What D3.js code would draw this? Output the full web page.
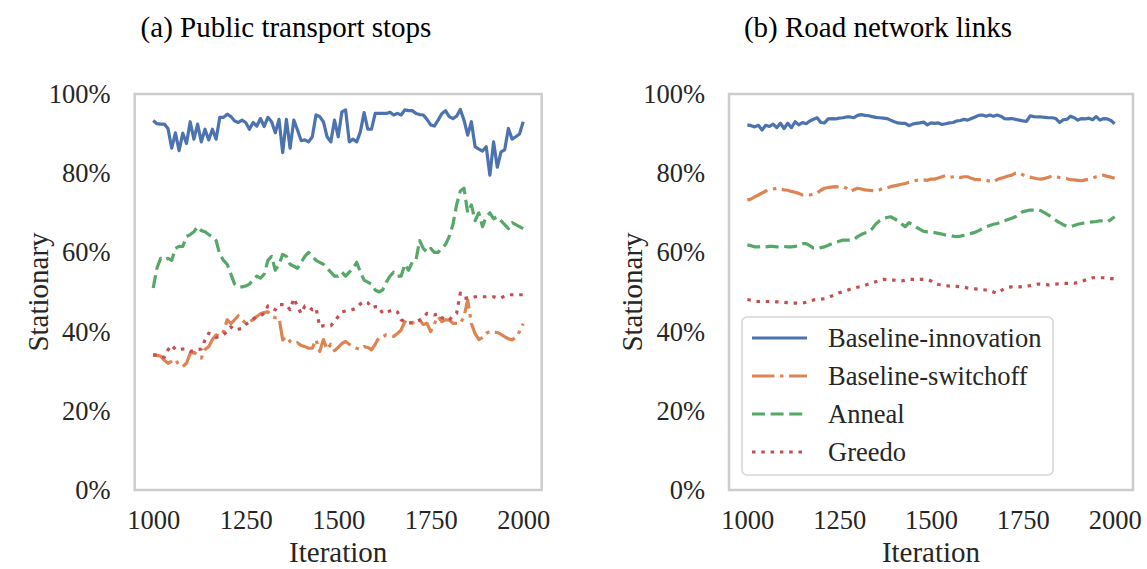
<!DOCTYPE html>
<html>
<head>
<meta charset="utf-8">
<script src="https://cdn.jsdelivr.net/npm/d3@7"></script>
<style>
  html, body { margin: 0; padding: 0; background: #fff; }
  svg { display: block; font-family: "Liberation Serif", "Times New Roman", "DejaVu Serif", serif; }
</style>
</head>
<body>
<svg id="chart" width="1147" height="569"></svg>
<script>
// Iterations sampled every 10 steps
const iterations = d3.range(1000, 2001, 10);

// (a) Public transport stops — share of stationary entities
const transportInnovation = [
  0.933, 0.925, 0.924, 0.924, 0.913, 0.863, 0.902, 0.857, 0.901, 0.875,
  0.930, 0.886, 0.924, 0.879, 0.911, 0.884, 0.911, 0.886, 0.941, 0.941,
  0.949, 0.943, 0.932, 0.928, 0.934, 0.928, 0.911, 0.928, 0.919, 0.938,
  0.918, 0.941, 0.930, 0.902, 0.936, 0.852, 0.936, 0.863, 0.934, 0.909,
  0.882, 0.884, 0.879, 0.892, 0.947, 0.943, 0.930, 0.892, 0.879, 0.934,
  0.892, 0.955, 0.960, 0.879, 0.886, 0.879, 0.905, 0.953, 0.911, 0.911,
  0.951, 0.951, 0.951, 0.951, 0.954, 0.947, 0.951, 0.947, 0.960, 0.958,
  0.958, 0.951, 0.948, 0.947, 0.936, 0.922, 0.919, 0.934, 0.950, 0.958,
  0.943, 0.938, 0.944, 0.961, 0.934, 0.896, 0.930, 0.867, 0.861, 0.856,
  0.867, 0.795, 0.879, 0.815, 0.854, 0.859, 0.913, 0.886, 0.892, 0.899,
  0.930
];
const transportSwitchoff = [
  0.340, 0.340, 0.338, 0.328, 0.320, 0.325, 0.330, 0.315, 0.312, 0.320,
  0.345, 0.348, 0.340, 0.333, 0.355, 0.362, 0.380, 0.392, 0.388, 0.400,
  0.430, 0.420, 0.430, 0.440, 0.430, 0.421, 0.425, 0.430, 0.438, 0.445,
  0.448, 0.450, 0.438, 0.435, 0.435, 0.379, 0.387, 0.375, 0.370, 0.372,
  0.365, 0.362, 0.358, 0.358, 0.380, 0.350, 0.380, 0.355, 0.368, 0.352,
  0.360, 0.370, 0.375, 0.368, 0.362, 0.358, 0.355, 0.362, 0.360, 0.354,
  0.368, 0.385, 0.387, 0.392, 0.390, 0.388, 0.395, 0.404, 0.425, 0.418,
  0.421, 0.430, 0.429, 0.418, 0.421, 0.400, 0.420, 0.438, 0.425, 0.430,
  0.429, 0.421, 0.421, 0.420, 0.438, 0.480, 0.420, 0.395, 0.380, 0.385,
  0.396, 0.400, 0.398, 0.398, 0.393, 0.387, 0.382, 0.379, 0.385, 0.400,
  0.420
];
const transportAnneal = [
  0.510, 0.560, 0.585, 0.580, 0.585, 0.580, 0.610, 0.615, 0.615, 0.640,
  0.645, 0.652, 0.665, 0.655, 0.652, 0.645, 0.640, 0.630, 0.595, 0.580,
  0.570, 0.545, 0.520, 0.513, 0.513, 0.515, 0.520, 0.530, 0.540, 0.535,
  0.545, 0.580, 0.590, 0.555, 0.570, 0.595, 0.590, 0.570, 0.565, 0.560,
  0.575, 0.590, 0.600, 0.590, 0.580, 0.575, 0.570, 0.560, 0.550, 0.540,
  0.540, 0.550, 0.540, 0.550, 0.560, 0.575, 0.550, 0.530, 0.525, 0.520,
  0.505, 0.500, 0.505, 0.525, 0.540, 0.550, 0.540, 0.540, 0.570, 0.555,
  0.575, 0.580, 0.630, 0.610, 0.600, 0.610, 0.600, 0.600, 0.610, 0.620,
  0.640, 0.670, 0.720, 0.755, 0.762, 0.700, 0.720, 0.680, 0.700, 0.665,
  0.690, 0.700, 0.685, 0.690, 0.680, 0.670, 0.660, 0.675, 0.670, 0.665,
  0.660
];
const transportGreedo = [
  0.341, 0.341, 0.338, 0.335, 0.354, 0.366, 0.355, 0.354, 0.356, 0.356,
  0.350, 0.352, 0.355, 0.356, 0.379, 0.396, 0.392, 0.385, 0.388, 0.392,
  0.400, 0.412, 0.404, 0.406, 0.408, 0.418, 0.425, 0.432, 0.438, 0.440,
  0.446, 0.465, 0.460, 0.455, 0.468, 0.468, 0.468, 0.455, 0.484, 0.463,
  0.446, 0.465, 0.463, 0.455, 0.460, 0.412, 0.415, 0.415, 0.415, 0.425,
  0.438, 0.450, 0.452, 0.454, 0.456, 0.460, 0.470, 0.476, 0.473, 0.460,
  0.463, 0.463, 0.446, 0.450, 0.452, 0.455, 0.450, 0.430, 0.425, 0.421,
  0.423, 0.425, 0.429, 0.435, 0.446, 0.444, 0.442, 0.446, 0.435, 0.432,
  0.429, 0.440, 0.446, 0.497, 0.484, 0.485, 0.485, 0.488, 0.488, 0.488,
  0.488, 0.488, 0.488, 0.485, 0.485, 0.490, 0.493, 0.493, 0.493, 0.493,
  0.493
];

// (b) Road network links
const roadInnovation = [
  0.922, 0.920, 0.917, 0.921, 0.909, 0.921, 0.918, 0.924, 0.915, 0.926,
  0.913, 0.926, 0.915, 0.930, 0.922, 0.928, 0.925, 0.932, 0.936, 0.940,
  0.928, 0.927, 0.937, 0.938, 0.937, 0.939, 0.940, 0.942, 0.942, 0.940,
  0.946, 0.948, 0.946, 0.945, 0.943, 0.941, 0.940, 0.939, 0.938, 0.934,
  0.930, 0.927, 0.926, 0.926, 0.920, 0.924, 0.926, 0.927, 0.929, 0.922,
  0.927, 0.926, 0.927, 0.923, 0.925, 0.927, 0.928, 0.932, 0.933, 0.936,
  0.934, 0.938, 0.942, 0.946, 0.947, 0.944, 0.947, 0.944, 0.947, 0.944,
  0.938, 0.937, 0.938, 0.936, 0.934, 0.932, 0.931, 0.945, 0.943, 0.942,
  0.942, 0.941, 0.940, 0.940, 0.938, 0.928, 0.935, 0.936, 0.944, 0.940,
  0.934, 0.938, 0.937, 0.939, 0.935, 0.943, 0.934, 0.938, 0.937, 0.933,
  0.925
];
const roadSwitchoff = [
  0.732, 0.735, 0.740, 0.745, 0.750, 0.755, 0.758, 0.760, 0.762, 0.760,
  0.758, 0.757, 0.754, 0.752, 0.749, 0.745, 0.745, 0.745, 0.747, 0.750,
  0.757, 0.762, 0.764, 0.765, 0.766, 0.765, 0.766, 0.762, 0.754, 0.758,
  0.762, 0.760, 0.758, 0.757, 0.756, 0.755, 0.758, 0.762, 0.763, 0.766,
  0.768, 0.770, 0.772, 0.774, 0.777, 0.780, 0.782, 0.783, 0.783, 0.782,
  0.785, 0.785, 0.788, 0.791, 0.794, 0.790, 0.791, 0.793, 0.789, 0.791,
  0.791, 0.787, 0.784, 0.784, 0.783, 0.782, 0.780, 0.778, 0.784, 0.787,
  0.790, 0.793, 0.795, 0.800, 0.801, 0.796, 0.792, 0.790, 0.788, 0.786,
  0.785, 0.787, 0.790, 0.793, 0.791, 0.789, 0.787, 0.786, 0.784, 0.783,
  0.782, 0.781, 0.783, 0.785, 0.788, 0.791, 0.793, 0.795, 0.792, 0.790,
  0.787
];
const roadAnneal = [
  0.619, 0.617, 0.614, 0.614, 0.615, 0.614, 0.615, 0.615, 0.614, 0.614,
  0.615, 0.614, 0.614, 0.615, 0.618, 0.622, 0.622, 0.617, 0.611, 0.610,
  0.612, 0.614, 0.618, 0.622, 0.625, 0.628, 0.631, 0.631, 0.631, 0.632,
  0.640, 0.645, 0.649, 0.652, 0.660, 0.672, 0.680, 0.685, 0.688, 0.690,
  0.685, 0.680, 0.672, 0.665, 0.675, 0.670, 0.664, 0.658, 0.653, 0.652,
  0.652, 0.650, 0.648, 0.646, 0.644, 0.643, 0.641, 0.640, 0.641, 0.643,
  0.645, 0.648, 0.651, 0.655, 0.660, 0.665, 0.668, 0.671, 0.673, 0.676,
  0.680, 0.683, 0.686, 0.690, 0.697, 0.703, 0.705, 0.707, 0.707, 0.708,
  0.705, 0.700, 0.694, 0.688, 0.681, 0.675, 0.670, 0.666, 0.665, 0.668,
  0.671, 0.673, 0.675, 0.676, 0.677, 0.678, 0.680, 0.679, 0.677, 0.683,
  0.690
];
const roadGreedo = [
  0.481, 0.479, 0.477, 0.476, 0.476, 0.476, 0.476, 0.476, 0.475, 0.475,
  0.474, 0.473, 0.472, 0.472, 0.472, 0.472, 0.474, 0.477, 0.480, 0.481,
  0.482, 0.483, 0.487, 0.490, 0.494, 0.498, 0.501, 0.504, 0.507, 0.510,
  0.512, 0.514, 0.517, 0.520, 0.523, 0.526, 0.529, 0.532, 0.531, 0.530,
  0.530, 0.529, 0.528, 0.530, 0.532, 0.532, 0.532, 0.532, 0.532, 0.532,
  0.528, 0.522, 0.519, 0.518, 0.516, 0.515, 0.514, 0.514, 0.513, 0.512,
  0.510, 0.509, 0.508, 0.507, 0.506, 0.505, 0.504, 0.500, 0.497, 0.503,
  0.509, 0.512, 0.513, 0.513, 0.513, 0.514, 0.515, 0.516, 0.518, 0.520,
  0.520, 0.519, 0.518, 0.519, 0.520, 0.521, 0.522, 0.522, 0.522, 0.522,
  0.524, 0.527, 0.530, 0.533, 0.536, 0.536, 0.536, 0.536, 0.535, 0.534,
  0.534
];

const seriesNames = ["Baseline-innovation", "Baseline-switchoff", "Anneal", "Greedo"];
const seriesColors = ["#4C72B0", "#DD8452", "#55A868", "#C44E52"];
const seriesDashes = [null, "22.4,5.6,3.5,5.6", "13,5.6", "3.5,5.8"];

const panelTitles = ["(a) Public transport stops", "(b) Road network links"];
const xTicks = [1000, 1250, 1500, 1750, 2000];
const yTicks = [0, 0.2, 0.4, 0.6, 0.8, 1.0];

const panelSeries = [
  [transportInnovation, transportSwitchoff, transportAnneal, transportGreedo],
  [roadInnovation, roadSwitchoff, roadAnneal, roadGreedo]
];

// Panel geometry
const panels = [
  { left: 134.7, right: 541.7, titleX: 286 },
  { left: 729, right: 1133, titleX: 878 }
];
const plotTop = 94, plotBottom = 490;
const textColor = "#262626";
const tickFont = 26.5, labelFont = 29, titleFont = 29;

const svg = d3.select("#chart");

panels.forEach((p, i) => {
  const x = d3.scaleLinear().domain([950, 2050]).range([p.left, p.right]);
  const y = d3.scaleLinear().domain([0, 1]).range([plotBottom, plotTop]);
  const g = svg.append("g");

  // Frame
  g.append("rect")
    .attr("x", p.left).attr("y", plotTop)
    .attr("width", p.right - p.left).attr("height", plotBottom - plotTop)
    .attr("fill", "#fff").attr("stroke", "#cccccc").attr("stroke-width", 2.5);

  // Lines
  const line = d3.line()
    .x((d, k) => x(iterations[k]))
    .y(d => y(d));
  panelSeries[i].forEach((vals, s) => {
    g.append("path")
      .datum(vals)
      .attr("d", line)
      .attr("fill", "none")
      .attr("stroke", seriesColors[s])
      .attr("stroke-width", 3.2)
      .attr("stroke-linejoin", "round")
      .attr("stroke-dasharray", seriesDashes[s]);
  });

  // Axes (no tick marks, no domain line)
  const xAxis = d3.axisBottom(x).tickValues(xTicks).tickSize(0).tickPadding(0).tickFormat(d3.format("d"));
  const xg = g.append("g").attr("transform", `translate(0,${plotBottom})`).call(xAxis);
  xg.select(".domain").remove();
  xg.selectAll("text")
    .attr("y", 31).attr("dy", "0.32em")
    .attr("fill", textColor)
    .style("font-family", "Liberation Serif, Times New Roman, serif")
    .style("font-size", tickFont + "px");

  const yAxis = d3.axisLeft(y).tickValues(yTicks).tickSize(0).tickPadding(0).tickFormat(d3.format(".0%"));
  const yg = g.append("g").attr("transform", `translate(${p.left},0)`).call(yAxis);
  yg.select(".domain").remove();
  yg.selectAll("text")
    .attr("x", -24).attr("dy", "0.32em")
    .attr("fill", textColor)
    .style("font-family", "Liberation Serif, Times New Roman, serif")
    .style("font-size", tickFont + "px");

  // Axis labels
  g.append("text")
    .attr("x", (p.left + p.right) / 2).attr("y", 562)
    .attr("text-anchor", "middle").attr("fill", textColor)
    .style("font-size", labelFont + "px")
    .text("Iteration");
  g.append("text")
    .attr("transform", `translate(${p.left - 97},${(plotTop + plotBottom) / 2}) rotate(-90)`)
    .attr("text-anchor", "middle").attr("dy", "0.35em").attr("fill", textColor)
    .style("font-size", labelFont + "px")
    .text("Stationary");

  // Title
  g.append("text")
    .attr("x", p.titleX).attr("y", 37)
    .attr("text-anchor", "middle").attr("fill", "#000")
    .style("font-size", titleFont + "px")
    .text(panelTitles[i]);
});

// Legend in the road network panel
const legend = svg.append("g");
legend.append("rect")
  .attr("x", 742).attr("y", 317).attr("width", 311).attr("height", 158)
  .attr("rx", 5).attr("ry", 5)
  .attr("fill", "#fff").attr("fill-opacity", 0.8)
  .attr("stroke", "#d6d6d6").attr("stroke-width", 1.6);
const legendRowY = d3.scalePoint().domain(seriesNames).range([338, 452]);
seriesNames.forEach((name, s) => {
  const yy = legendRowY(name);
  legend.append("line")
    .attr("x1", 752).attr("x2", 807).attr("y1", yy).attr("y2", yy)
    .attr("stroke", seriesColors[s]).attr("stroke-width", 3.2)
    .attr("stroke-dasharray", seriesDashes[s]);
  legend.append("text")
    .attr("x", 828).attr("y", yy).attr("dy", "0.35em")
    .attr("fill", textColor)
    .style("font-size", tickFont + "px")
    .text(name);
});
</script>
</body>
</html>
